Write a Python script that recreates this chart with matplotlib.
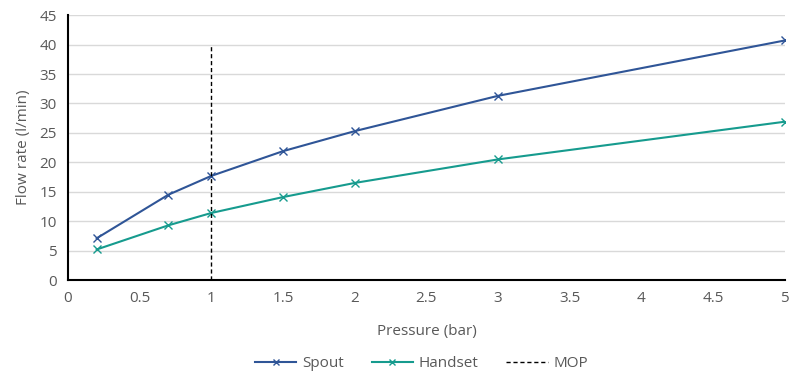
import matplotlib.pyplot as plt
from matplotlib.ticker import MultipleLocator

# =======================
# DATA
# =======================

pressure = [0.2, 0.7, 1, 1.5, 2, 3, 5]
spout = [7.1, 14.5, 17.7, 21.9, 25.3, 31.3, 40.7]
handset = [5.2, 9.3, 11.4, 14.1, 16.5, 20.5, 26.9]
mop_x = [1, 1]
mop_y = [0, 40]

TEXT_COLOR = "#595959"

plt.rcParams["font.family"] = ["Open Sans", "DejaVu Sans"]

fig = plt.figure(figsize=(8, 3.79), dpi=100)
ax = fig.add_axes([0.085, 0.261, 0.896, 0.699])

ax.plot(pressure, spout, color="#2F5597", marker="x", markersize=6,
        linewidth=1.5, label="Spout")
ax.plot(pressure, handset, color="#169B8E", marker="x", markersize=6,
        linewidth=1.5, label="Handset")
ax.plot(mop_x, mop_y, color="black", linestyle=(0, (3, 2)), linewidth=1,
        label="MOP")

ax.set_xlim(0, 5)
ax.set_ylim(0, 45)
ax.xaxis.set_major_locator(MultipleLocator(0.5))
ax.yaxis.set_major_locator(MultipleLocator(5))
ax.xaxis.set_major_formatter(plt.FuncFormatter(lambda v, _: f"{v:g}"))

ax.grid(True, axis="y", color="#D9D9D9", linewidth=1)
ax.set_axisbelow(True)
for s in ["top", "right"]:
    ax.spines[s].set_visible(False)
ax.spines["left"].set_linewidth(1.5)
ax.spines["bottom"].set_linewidth(1.5)
ax.tick_params(length=0, labelsize=11, colors=TEXT_COLOR, pad=8)

ax.set_xlabel("Pressure (bar)", fontsize=11, color=TEXT_COLOR, labelpad=13)
ax.set_ylabel("Flow rate (l/min)", fontsize=11, color=TEXT_COLOR, labelpad=6)

leg = fig.legend(loc="center", bbox_to_anchor=(0.527, 0.04), ncol=3,
                 frameon=False, fontsize=11, handlelength=2.7, columnspacing=1.8,
                 handletextpad=0.4, markerscale=0.8)
for t in leg.get_texts():
    t.set_color(TEXT_COLOR)

fig.savefig("out.png", dpi=100)
